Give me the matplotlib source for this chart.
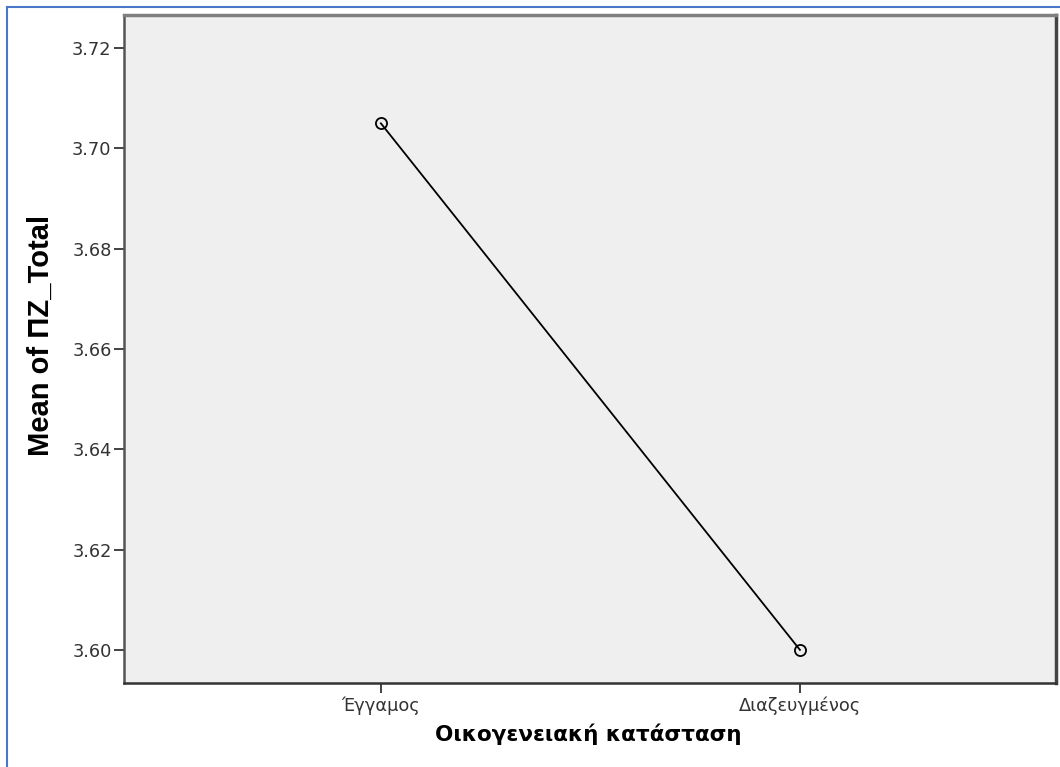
import matplotlib.pyplot as plt
from matplotlib.lines import Line2D

# Mean of ΠΖ_Total by marital status
categories = ['Έγγαμος', 'Διαζευγμένος']
means = [3.705, 3.600]
yticks = [3.60, 3.62, 3.64, 3.66, 3.68, 3.70, 3.72]

W, H = 1060, 767
fig = plt.figure(figsize=(W / 100, H / 100), dpi=100)
ax = fig.add_axes([124 / W, 1 - 683 / H, (1056 - 124) / W, (683 - 15) / H])
ax.set_facecolor('#efefef')

x = list(range(len(categories)))
ax.plot(x, means, color='black', lw=1.3, marker='o', ms=8,
        mfc='none', mec='black', mew=1.3)

ax.set_xlim(-0.613, 1.611)
ax.set_ylim(3.5934, 3.7266)
ax.set_xticks(x)
ax.set_xticklabels(categories)
ax.set_yticks(yticks)
ax.set_yticklabels([f'{v:.2f}' for v in yticks])
ax.tick_params(axis='y', length=7, width=1.2, color='#222222',
               labelsize=12.8, labelcolor='#333333', pad=2)
ax.tick_params(axis='x', length=7, width=1.2, color='#222222',
               labelsize=12.8, labelcolor='#333333', pad=3)

ax.spines['top'].set_color('#808080')
ax.spines['top'].set_linewidth(2.5)
ax.spines['right'].set_color('#444444')
ax.spines['right'].set_linewidth(2.5)
ax.spines['left'].set_color('#555555')
ax.spines['left'].set_linewidth(1.8)
ax.spines['bottom'].set_color('#333333')
ax.spines['bottom'].set_linewidth(1.8)

ax.set_ylabel('Mean of ΠΖ_Total', fontsize=21, fontweight='bold',
              family=['Liberation Sans', 'DejaVu Sans'])
ax.yaxis.set_label_coords(-0.074, 0.521)
ax.set_xlabel('Οικογενειακή κατάσταση', fontsize=15.5, fontweight='bold',
              family='DejaVu Sans')
ax.xaxis.set_label_coords(0.498, -0.061)

# outer blue frame (top and left edges)
fig.add_artist(Line2D([7 / W, 1], [1 - 7 / H, 1 - 7 / H],
                      transform=fig.transFigure, color='#4a78c8', lw=1.5))
fig.add_artist(Line2D([7 / W, 7 / W], [0, 1 - 7 / H],
                      transform=fig.transFigure, color='#4a78c8', lw=1.5))

fig.savefig('out.png', dpi=100)
